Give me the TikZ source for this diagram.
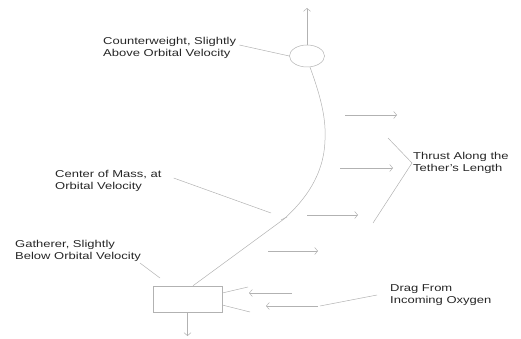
\documentclass[tikz,border=0pt]{standalone}
\usepackage{fontspec}
\setmainfont{Liberation Sans}[FakeStretch=1.3]
\usepackage{tikz}
\usetikzlibrary{calc}
\usetikzlibrary{arrows.meta, shapes.geometric}
\usetikzlibrary{positioning}

\begin{document}
\begin{tikzpicture}[x=1pt, y=-1pt, >={Straight Barb[length=3pt,width=7pt]},
    lbl/.style={anchor=west, align=left, inner sep=0pt, text=black!85,
                font=\fontsize{10}{12}\selectfont},
    ln/.style={gray!60, line width=0.5pt}]

    \useasboundingbox (0,0) rectangle (521,339);

    % -------------------------------------------------------
    % 1. Counterweight, gatherer and the tether
    % -------------------------------------------------------
    \node[ln, draw, ellipse, minimum width=35pt, minimum height=22pt] (cw) at (307,56) {};
    \node[ln, draw, rectangle, minimum width=69pt, minimum height=26pt, inner sep=0pt] (gath) at (187.5,299) {};
    \coordinate (com) at (284,219);

    \draw[ln] (cw.-75) .. controls (322,100) and (326,120) .. (325,140)
        .. controls (324,175) and (305,200) .. (com) -- ([xshift=5.5pt]gath.north);
    \draw[ln] ([shift={(-3pt,-1pt)}]com) -- ([shift={(3pt,2pt)}]com);

    % orbit directions
    \coordinate (cwtop) at (307,8);
    \coordinate (gathbot) at (187.5,336);
    \draw[->, ln] (cw.north) -- (cwtop);
    \draw[->, ln] (gath.south) -- (gathbot);

    % -------------------------------------------------------
    % 2. Labels
    % -------------------------------------------------------
    \node[lbl] (cwlabel) at (103,48) {Counterweight, Slightly\\Above Orbital Velocity};
    \node[lbl] (comlabel) at (55,181) {Center of Mass, at\\Orbital Velocity};
    \node[lbl] (thrustlabel) at (413,163) {Thrust Along the\\Tether's Length};
    \node[lbl] (gathlabel) at (15,251) {Gatherer, Slightly\\Below Orbital Velocity};
    \node[lbl] (draglabel) at (390,295) {Drag From\\Incoming Oxygen};

    % leaders
    \coordinate (comend) at (271,213);
    \coordinate (gathend) at (160,278);
    \coordinate (dragend) at (320,306);
    \coordinate (thrustup) at (388,138);
    \coordinate (thrustdown) at (373,223);
    \draw[ln] ([shift={(3pt,3pt)}]cwlabel.east) -- (cw.west);
    \draw[ln] ([shift={(12pt,3pt)}]comlabel.east) -- (comend);
    \draw[ln] ([shift={(125pt,-12pt)}]gathlabel.west) -- (gathend);
    \draw[ln] ([xshift=-13pt]draglabel.west) -- (dragend);
    \draw[ln] (thrustup) -- ([xshift=-1pt]thrustlabel.west) -- (thrustdown);

    % -------------------------------------------------------
    % 3. Thrust along the tether
    % -------------------------------------------------------
    \foreach \xa/\xb/\yy in {345/397/115, 340/393/168, 307/358/215, 268/318/251} {
        \draw[->, ln] (\xa,\yy) -- (\xb,\yy);
    }

    % -------------------------------------------------------
    % 4. Drag from incoming oxygen
    % -------------------------------------------------------
    \foreach \xa/\xb/\yy in {292/249/293, 318/266/306} {
        \draw[->, ln] (\xa,\yy) -- (\xb,\yy);
    }
    \draw[ln] ([yshift=6pt]gath.east) -- (248,287);
    \draw[ln] ([yshift=-6pt]gath.east) -- (250,312);
\end{tikzpicture}
\end{document}
